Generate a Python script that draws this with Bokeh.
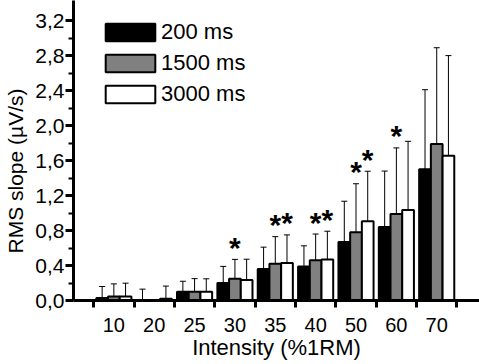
from bokeh.plotting import figure
from bokeh.models import (ColumnDataSource, FixedTicker, Range1d, Legend, LegendItem,
                          Whisker, TeeHead, Title, CustomJSTickFormatter)
from bokeh.core.properties import value
from bokeh.embed import file_html
from bokeh.resources import INLINE

# ---- data ----
categories = ["10", "20", "25", "30", "35", "40", "50", "60", "70"]
series_names = ["200 ms", "1500 ms", "3000 ms"]

mean_200 = [0.03, 0.005, 0.10, 0.20, 0.36, 0.39, 0.67, 0.84, 1.50]
sd_200 = [0.13, 0.125, 0.12, 0.19, 0.25, 0.235, 0.465, 0.64, 0.91]

mean_1500 = [0.045, 0.0, 0.10, 0.25, 0.42, 0.46, 0.78, 0.99, 1.79]
sd_1500 = [0.145, 0.0, 0.15, 0.22, 0.31, 0.30, 0.555, 0.755, 1.10]

mean_3000 = [0.045, 0.02, 0.10, 0.235, 0.43, 0.47, 0.905, 1.035, 1.655]
sd_3000 = [0.153, 0.145, 0.148, 0.237, 0.32, 0.322, 0.573, 0.785, 1.145]

star_200 = [0, 0, 0, 0, 0, 0, 0, 0, 0]
star_1500 = [0, 0, 0, 1, 1, 1, 1, 1, 0]
star_3000 = [0, 0, 0, 0, 1, 1, 1, 0, 0]

y_ticks = [0.0, 0.4, 0.8, 1.2, 1.6, 2.0, 2.4, 2.8, 3.2]
y_minor = [0.2, 0.6, 1.0, 1.4, 1.8, 2.2, 2.6, 3.0]

FONT = "Liberation Sans"
W, H = 479, 364

p = figure(width=W, height=H, output_backend="svg", toolbar_location=None,
           x_range=Range1d(-1.0, 9.06), y_range=Range1d(0, 3.43),
           min_border_left=73, min_border_right=0, min_border_top=0,
           min_border_bottom=64)
p.outline_line_color = None
p.grid.visible = False
p.background_fill_color = "white"
p.border_fill_color = "white"

xpos = list(range(len(categories)))
bar_w = 0.29
offsets = [-bar_w, 0.0, bar_w]
colors = ["black", "#808080", "white"]
all_means = [mean_200, mean_1500, mean_3000]
all_sds = [sd_200, sd_1500, sd_3000]
all_stars = [star_200, star_1500, star_3000]

renderers = []
for means, sds, stars, off, col in zip(all_means, all_sds, all_stars, offsets, colors):
    xs = [i + off for i in xpos]
    src = ColumnDataSource(dict(x=xs, top=means))
    r = p.vbar(x="x", top="top", bottom=0, width=bar_w, source=src,
               fill_color=col, line_color="black", line_width=2)
    renderers.append(r)
    ex = [x for x, s in zip(xs, sds) if s > 0]
    elo = [m for m, s in zip(means, sds) if s > 0]
    ehi = [m + s for m, s in zip(means, sds) if s > 0]
    esrc = ColumnDataSource(dict(x=ex, lo=elo, hi=ehi))
    wk = Whisker(base="x", upper="hi", lower="lo", source=esrc, dimension="height",
                 line_color="black", line_width=1,
                 upper_head=TeeHead(size=6, line_color="black", line_width=1),
                 lower_head=None, level="glyph")
    p.add_layout(wk)
    sx = [x for x, f in zip(xs, stars) if f]
    sy = [m + s for m, s, f in zip(means, sds, stars) if f]
    if sx:
        p.text(x=sx, y=sy, text=["*"] * len(sx), text_font=value(FONT),
               text_font_size="30px", text_font_style="bold", text_align="center",
               text_baseline="alphabetic", y_offset=-12, text_color="black")

legend = Legend(items=[LegendItem(label=n, renderers=[r]) for n, r in zip(series_names, renderers)],
                location=(26, 193), glyph_width=62, glyph_height=22, spacing=5,
                padding=0, margin=0, border_line_color=None, background_fill_alpha=0,
                label_standoff=0, label_text_font=FONT, label_text_font_size="22px",
                label_text_color="black")
p.add_layout(legend)

xa = p.xaxis[0]
xa.ticker = FixedTicker(ticks=xpos, minor_ticks=[i - 0.5 for i in range(len(categories) + 1)])
xa.formatter = CustomJSTickFormatter(args=dict(labels=categories),
                                     code="return labels[Math.round(tick)] || '';")
xa.major_tick_out = 0
xa.major_tick_in = 0
xa.minor_tick_out = 7
xa.minor_tick_in = 0
xa.minor_tick_line_width = 3
xa.minor_tick_line_color = "black"
xa.axis_line_width = 3
xa.axis_line_color = "black"
xa.major_label_standoff = 10
xa.major_label_text_font = FONT
xa.major_label_text_font_size = "20px"
xa.major_label_text_color = "black"
xa.axis_label = "Intensity (%1RM)"
xa.axis_label_text_font = FONT
xa.axis_label_text_font_size = "22px"
xa.axis_label_text_font_style = "normal"
xa.axis_label_text_color = "black"
xa.axis_label_standoff = 0

ya = p.yaxis[0]
ya.ticker = FixedTicker(ticks=y_ticks, minor_ticks=y_minor)
ya.formatter = CustomJSTickFormatter(code="return tick.toFixed(1).replace('.', ',');")
ya.major_tick_out = 8
ya.major_tick_in = 0
ya.major_tick_line_width = 3
ya.minor_tick_out = 5
ya.minor_tick_in = 0
ya.minor_tick_line_width = 2
ya.minor_tick_line_color = "black"
ya.axis_line_width = 3
ya.axis_line_color = "black"
ya.major_label_standoff = 1
ya.major_label_text_font = FONT
ya.major_label_text_font_size = "21px"
ya.major_label_text_color = "black"

ytitle = Title(text="RMS slope (µV/s)", align="left", offset=47, standoff=7,
               vertical_align="top",
               text_font=FONT, text_font_size="21px", text_font_style="normal",
               text_color="black")
p.add_layout(ytitle, "left")

open("out.html", "w").write(file_html(p, INLINE))
